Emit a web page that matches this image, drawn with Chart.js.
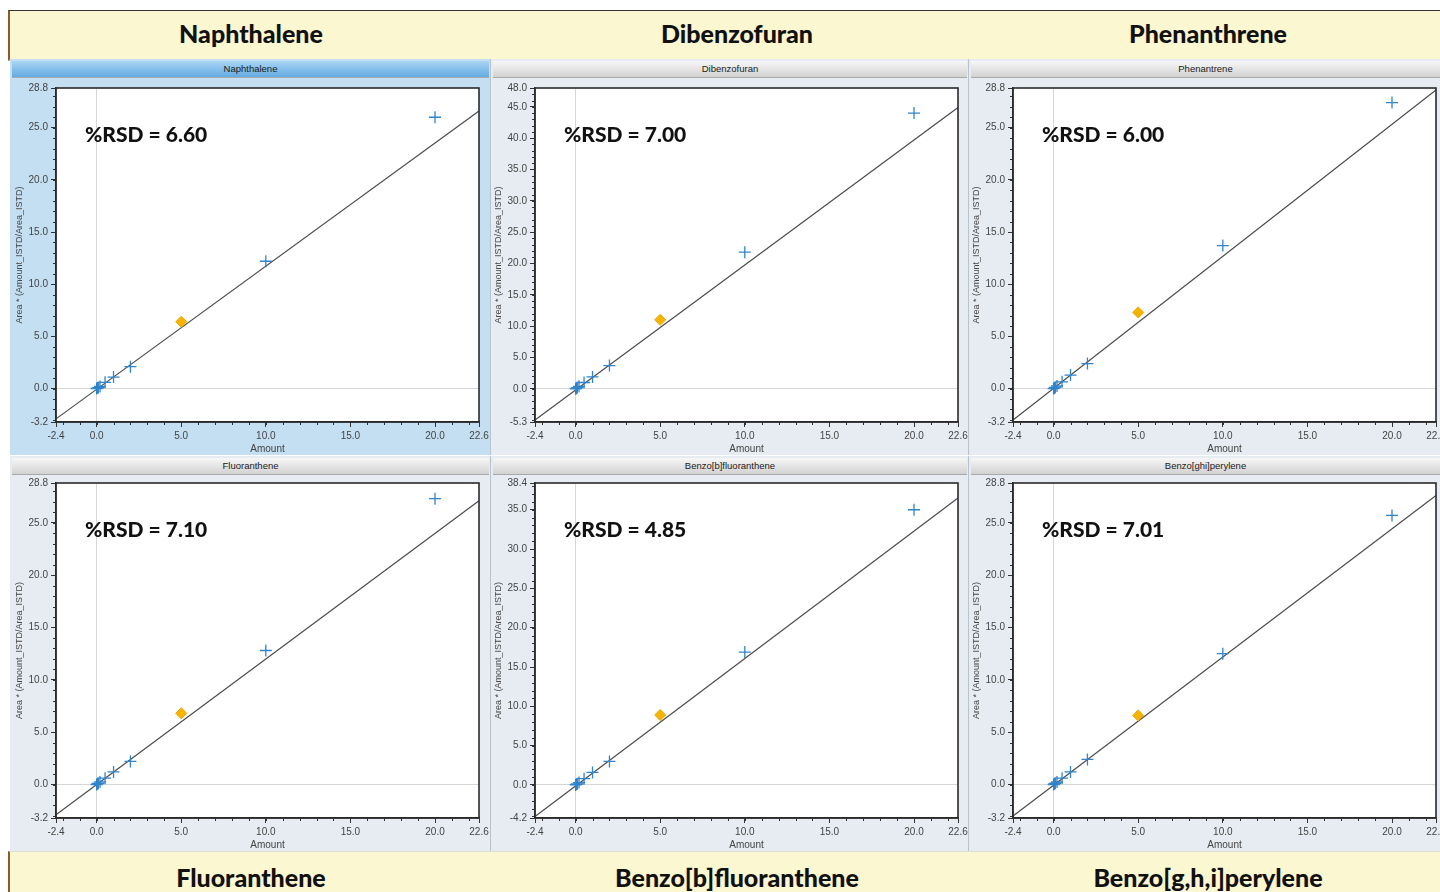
<!DOCTYPE html>
<html>
<head>
<meta charset="utf-8">
<script src="https://cdn.jsdelivr.net/npm/chart.js@4.4.1/dist/chart.umd.min.js"></script>
<style>
body{margin:0;width:1440px;height:892px;overflow:hidden;background:#fff;position:relative;font-family:"Liberation Sans",Arial,sans-serif}
.banda{position:absolute;left:8px;width:1440px;background:#fbf7d0;border-left:2px solid #8a5b2e}
.banda span{position:absolute;transform:translate(-50%,-50%);font:900 25px Lato,"Open Sans",sans-serif;color:#111;white-space:nowrap}
.panel{position:absolute;border-right:1px solid #b9c3cc}
.barra{position:absolute;left:2px;right:1px;top:2px;height:16px;font-size:9.5px;line-height:16px;text-align:center;color:#1a1a1a;border-bottom:1px solid #a9a9a9}
.lienzo{position:absolute}
.rsd{position:absolute;font:900 21px Lato,"Open Sans",sans-serif;color:#111;white-space:nowrap;transform:translateY(-50%)}
</style>
</head>
<body>
<div id="contenedor"></div>
<script>
// Datos de calibracion
const compuestos = ['Naphthalene', 'Dibenzofuran', 'Phenanthrene', 'Fluoranthene', 'Benzo[b]fluoranthene', 'Benzo[g,h,i]perylene'];
const titulosPanel = ['Naphthalene', 'Dibenzofuran', 'Phenantrene', 'Fluoranthene', 'Benzo[b]fluoranthene', 'Benzo[ghi]perylene'];
const rsd = ['6.60', '7.00', '6.00', '7.10', '4.85', '7.01'];

const cantidades = [0, 0.05, 0.1, 0.2, 0.5, 1, 2, 10, 20];
const respNaftaleno = [0, 0.05, 0.1, 0.2, 0.6, 1.1, 2.1, 12.2, 26.0];
const respDibenzofurano = [0, 0.1, 0.2, 0.4, 1.0, 1.9, 3.7, 21.8, 44.0];
const respFenantreno = [0, 0.06, 0.12, 0.25, 0.65, 1.3, 2.4, 13.7, 27.4];
const respFluoranteno = [0, 0.06, 0.12, 0.25, 0.6, 1.2, 2.2, 12.8, 27.3];
const respBbF = [0, 0.08, 0.15, 0.3, 0.8, 1.6, 3.0, 16.9, 35.0];
const respBghiP = [0, 0.06, 0.12, 0.24, 0.6, 1.2, 2.4, 12.5, 25.7];
const respuestas = [respNaftaleno, respDibenzofurano, respFenantreno, respFluoranteno, respBbF, respBghiP];

// punto de control (rombo naranja)
const cantidadControl = 5;
const respControl = [6.4, 11.0, 7.3, 6.8, 8.9, 6.6];

// recta de calibracion: valores en x = -2.4 y x = 22.6
const rectaX = [-2.4, 22.6];
const rectaInicio = [-2.9, -5.0, -3.0, -2.9, -4.0, -3.0];
const rectaFin = [26.6, 44.9, 28.6, 27.1, 36.5, 27.6];

// ejes
const ejeXMin = -2.4, ejeXMax = 22.6;
const ticksX = [-2.4, 0, 5, 10, 15, 20, 22.6];
const ejeYMin = [-3.2, -5.3, -3.2, -3.2, -4.2, -3.2];
const ejeYMax = [28.8, 48.0, 28.8, 28.8, 38.4, 28.8];
const ticksY = [
    [-3.2, 0, 5, 10, 15, 20, 25, 28.8],
    [-5.3, 0, 5, 10, 15, 20, 25, 30, 35, 40, 45, 48.0],
    [-3.2, 0, 5, 10, 15, 20, 25, 28.8],
    [-3.2, 0, 5, 10, 15, 20, 25, 28.8],
    [-4.2, 0, 5, 10, 15, 20, 25, 30, 35, 38.4],
    [-3.2, 0, 5, 10, 15, 20, 25, 28.8]
];

//Layout
const colIzq = [10, 491, 969];
const colAncho = [480, 477, 472];
const filaArriba = [59, 456];
const filaAlto = [396, 395];
const areaIzq = [56, 535, 1013];
const areaArriba = [87, 482];
const areaAlto = [335, 336];

const contenedor = document.getElementById('contenedor');

function crear(tag, clase, estilo, texto) {
    const el = document.createElement(tag);
    if (clase) el.className = clase;
    Object.assign(el.style, estilo);
    if (texto) el.textContent = texto;
    contenedor.appendChild(el);
    return el;
}

// bandas amarillas
const arriba = crear('div', 'banda', {top: '10px', height: '48px', borderTop: '1px solid #333', borderBottom: '2px solid #e2b77a'});
const abajo = crear('div', 'banda', {top: '851px', height: '45px', borderTop: '1px solid #ddd'});
const centros = [249, 735, 1206];
compuestos.forEach((c, i) => {
    const s = document.createElement('span');
    s.textContent = c;
    s.style.left = (centros[i % 3] - 8) + 'px';
    s.style.top = i < 3 ? '22px' : '25px';
    (i < 3 ? arriba : abajo).appendChild(s);
});

// plugin: fondo blanco, marco y marcas menores
const marcoPlugin = {
    id: 'marco',
    beforeDraw(chart) {
        const {ctx, chartArea: a} = chart;
        ctx.save();
        ctx.fillStyle = '#fff';
        ctx.fillRect(a.left, a.top, a.right - a.left, a.bottom - a.top);
        ctx.restore();
    },
    afterDraw(chart) {
        const {ctx, chartArea: a, scales: {x, y}} = chart;
        ctx.save();
        ctx.strokeStyle = '#333';
        ctx.lineWidth = 1;
        for (let v = Math.ceil(x.min); v <= x.max; v++) {
            const px = Math.round(x.getPixelForValue(v)) + 0.5;
            ctx.beginPath(); ctx.moveTo(px, a.bottom); ctx.lineTo(px, a.bottom + 3); ctx.stroke();
        }
        for (let v = Math.ceil(y.min); v <= y.max; v++) {
            const py = Math.round(y.getPixelForValue(v)) + 0.5;
            ctx.beginPath(); ctx.moveTo(a.left, py); ctx.lineTo(a.left - 3, py); ctx.stroke();
        }
        ctx.lineWidth = 1.6;
        ctx.strokeStyle = '#2a2a2a';
        ctx.strokeRect(a.left, a.top, a.right - a.left, a.bottom - a.top);
        ctx.restore();
    }
};

const fuente = {family: '"Liberation Sans", Arial, sans-serif', size: 10};

compuestos.forEach((c, i) => {
    const col = i % 3, fila = Math.floor(i / 3);
    const panel = crear('div', 'panel', {
        left: colIzq[col] + 'px', top: filaArriba[fila] + 'px',
        width: colAncho[col] + 'px', height: filaAlto[fila] + 'px',
        background: i === 0 ? '#c4dff2' : '#e6ecf2'
    });
    const barra = document.createElement('div');
    barra.className = 'barra';
    barra.textContent = titulosPanel[i];
    barra.style.background = i === 0 ? 'linear-gradient(#a9d5f4,#62abe3)' : 'linear-gradient(#f7f7f7,#d2d2d2)';
    panel.appendChild(barra);

    const alto = areaAlto[fila] + 8 + 34;
    const div = crear('div', 'lienzo', {
        left: (areaIzq[col] - 46) + 'px', top: (areaArriba[fila] - 8) + 'px',
        width: '483px', height: alto + 'px'
    });
    const canvas = document.createElement('canvas');
    canvas.width = 483;
    canvas.height = alto;
    div.appendChild(canvas);

    crear('div', 'rsd', {left: (areaIzq[col] + 29) + 'px', top: (areaArriba[fila] + 46) + 'px'}, '%RSD = ' + rsd[i]);

    const puntos = cantidades.map((x, k) => ({x: x, y: respuestas[i][k]}));
    const recta = rectaX.map((x, k) => ({x: x, y: k === 0 ? rectaInicio[i] : rectaFin[i]}));

    new Chart(canvas, {
        type: 'scatter',
        data: {
            datasets: [
                {data: recta, showLine: true, pointRadius: 0, borderColor: '#4a4a4a', borderWidth: 1.2, order: 3},
                {data: puntos, pointStyle: 'cross', pointRadius: 6, borderColor: '#2f84cc', borderWidth: 1.3, order: 2},
                {data: [{x: cantidadControl, y: respControl[i]}], pointStyle: 'rectRot', pointRadius: 5.5,
                    backgroundColor: '#f6b400', borderColor: '#f0a800', borderWidth: 1, order: 1}
            ]
        },
        options: {
            responsive: false,
            animation: false,
            devicePixelRatio: 1,
            layout: {padding: {top: 8, right: 14, left: 0, bottom: 0}},
            plugins: {legend: {display: false}, tooltip: {enabled: false}},
            scales: {
                x: {
                    type: 'linear', min: ejeXMin, max: ejeXMax,
                    afterBuildTicks: s => { s.ticks = ticksX.map(v => ({value: v})); },
                    afterFit: s => { s.height = 34; },
                    ticks: {callback: v => v.toFixed(1), font: fuente, color: '#444', padding: 3, maxRotation: 0, autoSkip: false},
                    grid: {color: ctx => ctx.tick && ctx.tick.value === 0 ? '#d6d6d6' : 'rgba(0,0,0,0)', tickColor: '#333', tickLength: 5},
                    border: {color: '#2a2a2a', width: 1.5},
                    title: {display: true, text: 'Amount', font: fuente, color: '#444', padding: {top: 0, bottom: 1}}
                },
                y: {
                    type: 'linear', min: ejeYMin[i], max: ejeYMax[i],
                    afterBuildTicks: s => { s.ticks = ticksY[i].map(v => ({value: v})); },
                    afterFit: s => { s.width = 46; },
                    ticks: {callback: v => v.toFixed(1), font: fuente, color: '#444', padding: 3, autoSkip: false},
                    grid: {color: ctx => ctx.tick && ctx.tick.value === 0 ? '#d6d6d6' : 'rgba(0,0,0,0)', tickColor: '#333', tickLength: 5},
                    border: {color: '#2a2a2a', width: 1.5},
                    title: {display: true, text: 'Area * (Amount_ISTD/Area_ISTD)', font: {family: fuente.family, size: 9}, color: '#444', padding: {top: 4, bottom: 0}}
                }
            }
        },
        plugins: [marcoPlugin]
    });
});
</script>
</body>
</html>
